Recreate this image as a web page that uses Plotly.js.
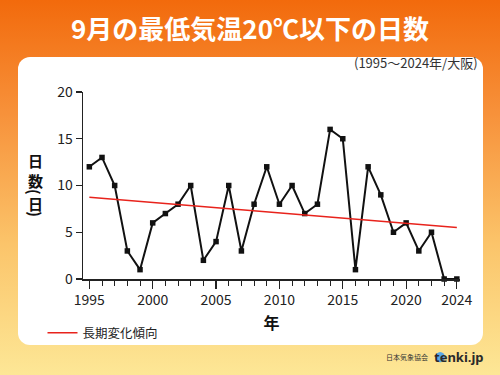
<!DOCTYPE html>
<html><head><meta charset="utf-8">
<script src="https://cdn.plot.ly/plotly-3.0.1.min.js"></script>
<style>
html,body{margin:0;padding:0;}
#wrap{position:relative;width:500px;height:375px;overflow:hidden;
 background:linear-gradient(to bottom,#f26a0c 0%,#f7913a 30%,#fbc46a 65%,#fde796 100%);}
#panel{position:absolute;left:18px;top:57px;width:465px;height:288px;background:#fff;border-radius:12px;}
#chart{position:absolute;left:0;top:0;width:500px;height:375px;}
</style></head>
<body><div id="wrap"><div id="panel"></div><div id="chart"></div></div>
<script>
const years = [1995,1996,1997,1998,1999,2000,2001,2002,2003,2004,2005,2006,2007,2008,2009,2010,2011,2012,2013,2014,2015,2016,2017,2018,2019,2020,2021,2022,2023,2024];
const days  = [12,13,10,3,1,6,7,8,10,2,4,10,3,8,12,8,10,7,8,16,15,1,12,9,5,6,3,5,0,0];
const trendYears = [1995, 2024];
const trendDays  = [8.75, 5.51];
const xTickVals = [1995,2000,2005,2010,2015,2020,2024];
const xTickText = ['1995','2000','2005','2010','2015','2020','2024'];
const yTickVals = [0,5,10,15,20];

const F = '"Noto Sans CJK JP","Noto Sans",sans-serif';
const traces = [
 {x: years, y: days, type:'scatter', mode:'lines+markers', showlegend:false,
  line:{color:'#111', width:2}, marker:{symbol:'square', size:5.5, color:'#111'}, cliponaxis:false},
 {x: trendYears, y: trendDays, type:'scatter', mode:'lines', name:'長期変化傾向',
  line:{color:'#e8231c', width:1.5}}
];
const yt = {showarrow:false, xref:'paper', yref:'paper', x:-0.127, xanchor:'center', yanchor:'middle',
  font:{size:15, color:'#111', weight:'bold'}};
const layout = {
 width:500, height:375,
 paper_bgcolor:'rgba(0,0,0,0)', plot_bgcolor:'rgba(0,0,0,0)',
 margin:{l:83, r:40, t:92, b:96, autoexpand:false},
 font:{family:F, color:'#222', size:13},
 title:{text:'<b>9月の最低気温20℃以下の日数</b>', font:{family:F, size:26, color:'#fff'},
   x:0.5, xanchor:'center', y:0.92, yanchor:'middle', xref:'container', yref:'container'},
 xaxis:{range:[1994.5, 2024.25], automargin:false, showgrid:false, zeroline:false, showline:true, linecolor:'#222', linewidth:1.5,
   tickmode:'array', tickvals:xTickVals, ticktext:xTickText, ticks:'outside', ticklen:8, tickcolor:'#222', tickwidth:1.2,
   minor:{tickmode:'linear', tick0:1995, dtick:1, ticks:'outside', ticklen:5, tickcolor:'#222', tickwidth:1, showgrid:false},
   tickfont:{size:14, color:'#222'},
   title:{text:'<b>年</b>', font:{size:16, color:'#111'}, standoff:9}},
 yaxis:{range:[0,20], automargin:false, showgrid:false, zeroline:false, showline:true, linecolor:'#222', linewidth:1.5,
   tickmode:'array', tickvals:yTickVals, ticks:'outside', ticklen:6, tickcolor:'#222', tickwidth:1.2,
   tickfont:{size:14, color:'#222'}},
 showlegend:true,
 legend:{xref:'container', yref:'container', x:0.085, y:0.112, xanchor:'left', yanchor:'middle',
   bgcolor:'rgba(0,0,0,0)', font:{size:12.5, color:'#222'}},
 annotations:[
  {text:'(1995〜2024年/大阪)', xref:'paper', yref:'paper', x:1.052, xanchor:'right', y:1.16, yanchor:'middle',
   showarrow:false, font:{size:13, color:'#333'}},
  Object.assign({text:'日<br>数', y:0.58}, yt),
  Object.assign({text:'(', y:0.465, textangle:90}, yt),
  Object.assign({text:'日', y:0.403}, yt),
  Object.assign({text:')', y:0.345, textangle:90}, yt),
  {text:'日本気象協会', xref:'paper', yref:'paper', x:0.92, y:-0.417, xanchor:'right', yanchor:'middle',
   showarrow:false, font:{size:7, color:'#333'}},
  {text:'<b>tenki.jp</b>', xref:'paper', yref:'paper', x:1.068, y:-0.417, xanchor:'right', yanchor:'middle',
   showarrow:false, font:{size:13, color:'#2a2a2a', family:'"Noto Sans","DejaVu Sans",sans-serif'}}
 ],
 shapes:[
  {type:'circle', xref:'paper', yref:'paper', x0:0.935, x1:0.96, y0:-0.445, y1:-0.39,
   fillcolor:'#5aa7e6', line:{width:0}}
 ]
};
Plotly.newPlot('chart', traces, layout, {staticPlot:true, displayModeBar:false});
</script></body></html>
